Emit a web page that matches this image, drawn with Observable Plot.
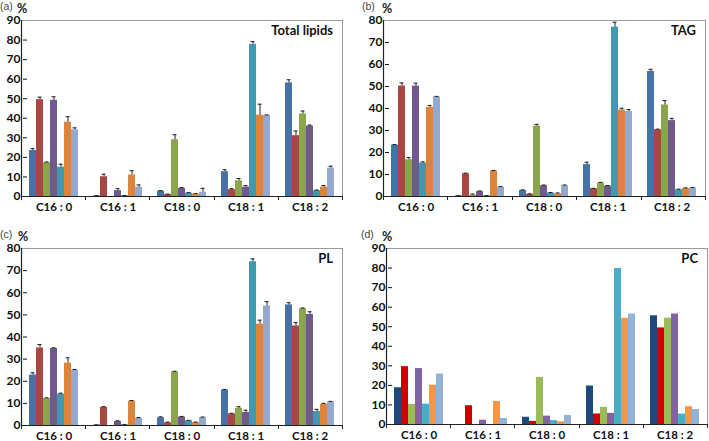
<!DOCTYPE html>
<html><head><meta charset="utf-8">
<script src="https://cdn.jsdelivr.net/npm/d3@7"></script>
<script src="https://cdn.jsdelivr.net/npm/@observablehq/plot@0.6"></script>
<style>
body{margin:0;background:#fff;}
#root{position:relative;width:709px;height:441px;overflow:hidden;background:#fff;}
#root svg{position:absolute;}
</style></head><body><div id="root"></div>
<script>
const categories = ["C16 : 0", "C16 : 1", "C18 : 0", "C18 : 1", "C18 : 2"];
const series = ["S1", "S2", "S3", "S4", "S5", "S6", "S7"];
const colorsABC = ["#4572A7", "#AA4643", "#89A54E", "#71588F", "#4198AF", "#DB843D", "#93A9CF"];
const colorsD = ["#1F497D", "#CC0000", "#9BBB59", "#8064A2", "#4BACC6", "#F79646", "#95B3D7"];

// rows = categories, columns = series
const totalLipids = [
  [23.5, 49.5, 17.3, 49.2, 15.0, 38.0, 34.1],
  [0.3, 10.1, 0.0, 3.0, 0.4, 11.0, 4.8],
  [2.7, 1.0, 29.0, 4.2, 1.7, 1.2, 2.2],
  [12.7, 3.5, 8.0, 4.8, 77.8, 41.6, 41.4],
  [58.1, 31.1, 42.2, 36.0, 3.0, 4.8, 14.5]
];
const totalLipidsErr = [
  [1.0, 1.3, 0.3, 1.8, 1.5, 2.8, 1.0],
  [0.1, 1.3, 0.0, 1.0, 0.1, 2.2, 1.1],
  [0.3, 0.2, 2.6, 0.3, 0.3, 0.3, 2.0],
  [1.0, 0.5, 1.2, 0.8, 1.4, 5.6, 0.3],
  [1.6, 2.4, 1.5, 0.5, 0.3, 0.8, 1.0]
];
const tag = [
  [23.3, 50.2, 16.7, 50.2, 15.2, 40.5, 45.2],
  [0.3, 10.3, 0.6, 2.2, 0.3, 11.6, 4.2],
  [2.7, 1.0, 32.0, 4.9, 1.6, 1.2, 4.9],
  [14.5, 3.5, 6.1, 4.7, 77.0, 39.3, 38.7],
  [56.8, 30.3, 41.6, 34.5, 3.0, 3.6, 3.8]
];
const tagErr = [
  [0.3, 1.4, 1.0, 1.3, 0.5, 0.9, 0.3],
  [0.1, 0.3, 0.5, 0.3, 0.1, 0.2, 0.3],
  [0.3, 0.2, 0.8, 0.3, 0.2, 0.4, 0.3],
  [1.1, 0.2, 0.3, 0.3, 2.2, 0.8, 0.8],
  [1.0, 0.3, 2.0, 1.0, 0.3, 0.3, 0.3]
];
const pl = [
  [22.8, 35.0, 12.2, 34.8, 14.2, 28.2, 25.0],
  [0.2, 8.2, 0.0, 1.8, 0.3, 11.0, 3.3],
  [3.5, 1.2, 24.2, 3.8, 2.1, 1.3, 3.5],
  [16.0, 5.2, 7.8, 5.9, 74.0, 45.8, 54.0],
  [54.5, 45.0, 52.8, 50.2, 6.3, 9.6, 10.6]
];
const plErr = [
  [1.0, 1.6, 0.3, 0.3, 0.4, 2.4, 0.3],
  [0.1, 0.3, 0.0, 0.3, 0.1, 0.3, 0.3],
  [0.4, 0.3, 0.3, 0.3, 0.2, 0.2, 0.3],
  [0.3, 0.3, 0.7, 1.0, 1.3, 1.8, 2.0],
  [1.0, 1.5, 0.3, 1.2, 1.0, 0.4, 0.3]
];
const pc = [
  [18.8, 29.6, 10.3, 28.6, 10.4, 20.1, 25.8],
  [0.0, 9.6, 0.0, 2.2, 0.0, 11.8, 3.1],
  [3.7, 1.6, 24.1, 4.3, 2.0, 1.4, 4.6],
  [19.7, 5.4, 8.8, 5.7, 79.8, 54.3, 56.5],
  [55.6, 49.4, 54.4, 56.5, 5.3, 9.1, 7.7]
];
const panelTags = ["(a)", "(b)", "(c)", "(d)"];
const panelTitles = ["Total lipids", "TAG", "PL", "PC"];
const yMaxes = [90, 80, 80, 90];

const panels = [
  {tag: panelTags[0], title: panelTitles[0], values: totalLipids, errs: totalLipidsErr, colors: colorsABC, yMax: yMaxes[0],
   left: 0, top: 0, w: 354, h: 218, mL: 21, mR: 12, mT: 20, mB: 22, pctDx: -4, tagDx: -21},
  {tag: panelTags[1], title: panelTitles[1], values: tag, errs: tagErr, colors: colorsABC, yMax: yMaxes[1],
   left: 355, top: 0, w: 354, h: 218, mL: 28, mR: 4, mT: 20, mB: 22, pctDx: -1, tagDx: -21},
  {tag: panelTags[2], title: panelTitles[2], values: pl, errs: plErr, colors: colorsABC, yMax: yMaxes[2],
   left: 0, top: 228, w: 354, h: 213, mL: 21, mR: 12, mT: 20, mB: 16, pctDx: -3, tagDx: -21},
  {tag: panelTags[3], title: panelTitles[3], values: pc, errs: null, colors: colorsD, yMax: yMaxes[3],
   left: 355, top: 228, w: 354, h: 213, mL: 31, mR: 2, mT: 20, mB: 17, pctDx: -4, tagDx: -25}
];

const root = document.getElementById("root");

for (const p of panels) {
  const rows = [];
  categories.forEach((c, i) => series.forEach((s, j) => rows.push({
    cat: c, s, v: p.values[i][j], e: p.errs ? p.errs[i][j] : 0
  })));
  const marks = [Plot.barY(rows, {x: "s", y: "v", fill: "s"})];
  if (p.errs) {
    marks.push(Plot.ruleX(rows, {filter: d => d.v > 0, x: "s", y1: "v", y2: d => d.v + d.e, stroke: "#222", strokeWidth: 1}));
    marks.push(Plot.tickY(rows, {filter: d => d.v > 0, x: "s", y: d => d.v + d.e, stroke: "#222", strokeWidth: 1, insetLeft: 1.5, insetRight: 1.5}));
  }
  const chart = Plot.plot({
    width: p.w, height: p.h,
    marginLeft: p.mL, marginRight: p.mR, marginTop: p.mT, marginBottom: p.mB,
    facet: {data: rows, x: "cat"},
    fx: {domain: categories, paddingInner: 0.167, paddingOuter: 0.0835, axis: "bottom", tickSize: 0, tickPadding: 6, label: null},
    x: {domain: series, padding: 0, axis: null},
    y: {domain: [0, p.yMax], ticks: d3.range(0, p.yMax + 1, 10), tickSize: 4, tickPadding: 3, label: null},
    color: {domain: series, range: p.colors},
    style: {fontFamily: "Lato, sans-serif", fontSize: "12px", fontWeight: "bold", color: "#111", background: "transparent", overflow: "visible"},
    marks
  });
  chart.style.left = p.left + "px";
  chart.style.top = p.top + "px";
  root.appendChild(chart);

  let x0 = p.mL, x1 = p.w - p.mR, yb = p.h - p.mB, yt = p.mT;
  try {
    const fxs = chart.scale("fx");
    if (fxs && fxs.range) { x0 = Math.min(...fxs.range); x1 = Math.max(...fxs.range); }
    const ys = chart.scale("y");
    if (ys && ys.range) { yb = Math.max(...ys.range); yt = Math.min(...ys.range); }
  } catch (e) {}
  const svg = d3.select(chart);
  svg.selectAll("text").filter(function () { return categories.includes(this.textContent); })
    .attr("font-size", 11.5);
  const g = svg.append("g").attr("text-anchor", "start");
  g.append("rect").attr("x", x0 + 0.5).attr("y", yt + 0.5).attr("width", x1 - x0).attr("height", yb - yt)
    .attr("fill", "none").attr("stroke", "#9a9a9a").attr("stroke-width", 1);
  g.append("line").attr("x1", x0 + 0.5).attr("x2", x0 + 0.5).attr("y1", yt).attr("y2", yb + 1)
    .attr("stroke", "#222").attr("stroke-width", 1.2);
  g.append("line").attr("x1", x0).attr("x2", x1 + 1).attr("y1", yb + 0.5).attr("y2", yb + 0.5)
    .attr("stroke", "#222").attr("stroke-width", 1.2);
  const step = (x1 - x0) / categories.length;
  for (let k = 0; k <= categories.length; k++) {
    const xx = Math.round(x0 + k * step) + 0.5;
    g.append("line").attr("x1", xx).attr("x2", xx).attr("y1", yb).attr("y2", yb + 4)
      .attr("stroke", "#222").attr("stroke-width", 1);
  }
  g.append("text").attr("x", x1 - 9).attr("y", yt + 15).attr("text-anchor", "end")
    .attr("font-family", "Lato, sans-serif").attr("font-size", 13).attr("font-weight", "bold").attr("fill", "#111")
    .text(p.title);
  g.append("text").attr("x", x0 + p.pctDx).attr("y", yt - 7).attr("text-anchor", "start")
    .attr("font-family", "Lato, sans-serif").attr("font-size", 12.5).attr("font-weight", "bold").attr("fill", "#222")
    .text("%");
  g.append("text").attr("x", x0 + p.tagDx).attr("y", yt - 10).attr("text-anchor", "start")
    .attr("font-family", "Liberation Sans, Arial, sans-serif").attr("font-size", 10.5).attr("font-weight", "normal").attr("fill", "#444")
    .text(p.tag);
}
</script></body></html>
